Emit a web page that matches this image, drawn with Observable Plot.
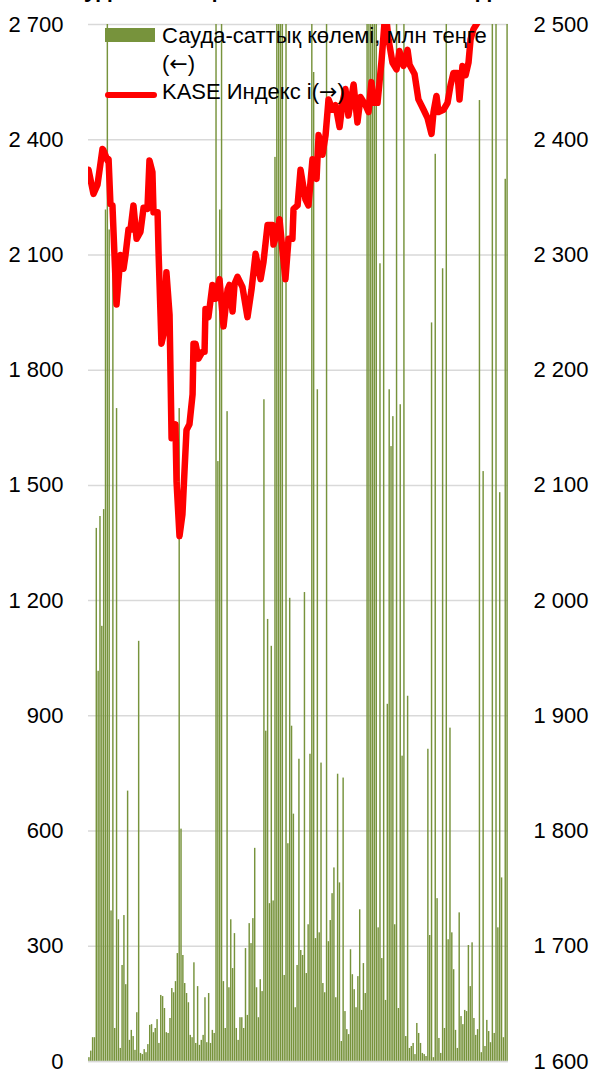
<!DOCTYPE html>
<html>
<head>
<meta charset="utf-8">
<script src="https://cdn.jsdelivr.net/npm/d3@7"></script>
<script src="https://cdn.jsdelivr.net/npm/@observablehq/plot@0.6"></script>
<style>
  body { margin: 0; background: #fff; }
  #wrap { position: relative; width: 589px; height: 1070px; overflow: hidden;
          font-family: 'Liberation Sans', Arial, sans-serif; color: #000; }
  #title { position: absolute; top: -23px; left: 0; width: 589px; text-align: center;
           font: bold 24px/24px 'Liberation Sans', Arial, sans-serif; white-space: nowrap; }
  #chart { position: absolute; left: 0; top: 0; }
  .lg { position: absolute; font-size: 22px; line-height: 28px; white-space: nowrap; }
  .ar { font-family: 'DejaVu Sans', sans-serif; font-size: 22px; }
  .sw { position: absolute; }
</style>
</head>
<body>
<div id="wrap">
  <div id="chart"></div>
  <div id="title">Сауда-саттық көлемі және KASE индексі</div>
  <div class="sw" style="left:105px;top:28px;width:50px;height:14px;background:#77933C"></div>
  <div class="lg" style="left:162px;top:22px">Сауда-саттық көлемі, млн теңге</div>
  <div class="lg" style="left:162px;top:50px">(<span class="ar">←</span>)</div>
  <div class="sw" style="left:105px;top:92px;width:52px;height:6px;background:#ff0000;border-radius:3px"></div>
  <div class="lg" style="left:162px;top:78px">KASE Индекс і(<span class="ar">→</span>)</div>
</div>
<script>
// Daily trading volume, mln tenge (left axis); values above 2700 are clipped in the original
const volume = [
  10,27,62,62,1388,1016,1419,1133,1437,2217,
  2850,2165,392,2200,86,1700,369,34,250,380,
  200,704,55,81,65,29,127,1094,21,18,
  31,23,44,94,96,75,86,109,47,172,
  169,138,75,73,112,190,179,208,281,1700,
  605,276,203,177,153,68,62,257,
  47,195,42,55,68,166,49,177,47,81,
  73,2850,1562,2217,2850,208,86,1692,192,369,
  242,333,86,55,114,114,86,294,120,359,
  307,372,555,192,114,213,182,1723,860,1151,
  411,1081,418,2354,2850,2850,2850,2850,224,2850,
  567,1206,873,644,140,250,787,
  289,276,1221,229,356,800,2850,2575,320,1749,
  335,777,203,179,2850,312,367,437,504,166,
  748,465,52,738,130,83,70,291,226,187,
  140,221,395,133,255,177,2850,2850,2850,2850,
  2850,2850,348,2077,268,2850,159,930,1749,1601,
  1679,356,2850,138,1710,795,2850,65,
  951,34,39,47,18,99,73,47,21,18,
  13,813,328,1923,10,2362,424,60,21,2064,
  86,2850,317,868,335,239,81,34,387,117,
  96,133,130,302,195,309,112,68,83,2502,
  23,1536,39,107,78,49,2850,73,2850,348,
  1481,478,62,2297,2850
];

// KASE index (right axis): trading-day position and value
const kaseDay = [
  0,2.7,4.9,7.6,8.1,10.3,10.9,11.9,13.0,15.2,
  17.4,19.0,20.1,21.7,22.8,24.4,26.1,28.2,29.9,32.0,
  33.1,34.7,35.3,37.5,38.0,39.6,40.7,42.3,44.0,45.1,
  47.2,47.8,49.4,51.0,52.1,53.2,54.8,56.5,57.0,58.1,
  59.7,61.9,63.0,63.5,65.1,67.3,68.9,71.1,73.3,75.5,
  76.5,78.2,79.3,80.9,83.6,86.3,88.5,90.7,93.4,95.0,
  97.2,99.9,100.4,102.6,103.7,105.3,106.9,108.6,110.7,111.3,
  113.5,115.1,117.8,119.4,121.6,123.8,124.9,127.0,128.7,130.3,
  132.5,134.1,136.3,137.9,139.5,141.1,143.9,146.0,147.7,150.4,
  152.0,153.6,154.7,156.9,159.1,161.2,162.9,165.0,167.2,168.8,
  171.0,173.2,174.3,177.0,179.1,181.9,184.0,186.2,187.3,188.9,
  190.0,192.7,194.9,196.5,198.1,200.3,201.4,203.0,204.7,206.3,
  207.4,209.0,211.7,215.5,221.0,228
];
const kaseValue = [
  2374,2353,2361,2392,2391,2382,2383,2344,2343,2257,
  2300,2288,2300,2322,2322,2343,2314,2320,2341,2340,
  2382,2372,2337,2337,2304,2223,2231,2285,2248,2141,
  2153,2103,2056,2075,2112,2148,2153,2179,2223,2223,
  2210,2216,2216,2253,2246,2274,2262,2279,2238,2270,
  2274,2251,2275,2281,2272,2246,2270,2301,2279,2294,
  2326,2326,2309,2320,2331,2304,2279,2314,2314,2340,
  2343,2374,2348,2343,2383,2366,2404,2387,2404,2435,
  2426,2430,2411,2432,2444,2421,2448,2415,2437,2430,
  2424,2450,2432,2432,2469,2512,2487,2467,2461,2477,
  2464,2478,2465,2457,2435,2426,2419,2405,2424,2438,
  2424,2426,2432,2447,2458,2458,2435,2464,2456,2467,
  2487,2496,2503,2520,2535,2550
];

const leftTicks = [0, 300, 600, 900, 1200, 1500, 1800, 2100, 2400, 2700];
const rightTicks = [1600, 1700, 1800, 1900, 2000, 2100, 2200, 2300, 2400, 2500];

const rightMin = 1600, rightMax = 2500, leftMax = 2700;
const toLeft = v => (v - rightMin) * leftMax / (rightMax - rightMin);
const fromLeft = v => v * (rightMax - rightMin) / leftMax + rightMin;
const fmt = n => {
  n = Math.round(n);
  return n >= 1000 ? Math.floor(n / 1000) + " " + String(n % 1000).padStart(3, "0") : String(n);
};

const kase = kaseDay.map((d, i) => ({day: d, value: kaseValue[i]}));
const bars = volume.map((v, i) => ({i, v}));

const chart = Plot.plot({
  width: 589,
  height: 1070,
  marginLeft: 88,
  marginRight: 81,
  marginTop: 24,
  marginBottom: 9,
  style: {
    fontFamily: "'Liberation Sans', Arial, sans-serif",
    fontSize: "22px",
    background: "transparent",
    overflow: "visible"
  },
  x: {domain: [0, volume.length], axis: null},
  y: {domain: [0, leftMax], axis: null},
  marks: [
    Plot.gridY(leftTicks, {stroke: "#d9d9d9", strokeOpacity: 1, strokeWidth: 1.5}),
    Plot.rectY(bars, {
      x1: d => d.i, x2: d => d.i + 1, y1: 0, y2: d => d.v,
      fill: "#77933C", insetLeft: 0.2, insetRight: 0.2, clip: true
    }),
    Plot.ruleY([0], {stroke: "#d9d9d9", strokeWidth: 1.5}),
    Plot.line(kase, {
      x: "day", y: d => toLeft(d.value),
      stroke: "#ff0000", strokeWidth: 6.5, strokeLinejoin: "round", strokeLinecap: "round",
      curve: "linear", clip: true
    }),
    Plot.axisY(leftTicks, {anchor: "left", tickSize: 0, tickPadding: 25, tickFormat: fmt, label: null, fontSize: 22}),
    Plot.axisY(rightTicks.map(toLeft), {anchor: "right", tickSize: 0, tickPadding: 25, tickFormat: v => fmt(fromLeft(v)), label: null, fontSize: 22})
  ]
});
document.getElementById("chart").appendChild(chart);
</script>
</body>
</html>
